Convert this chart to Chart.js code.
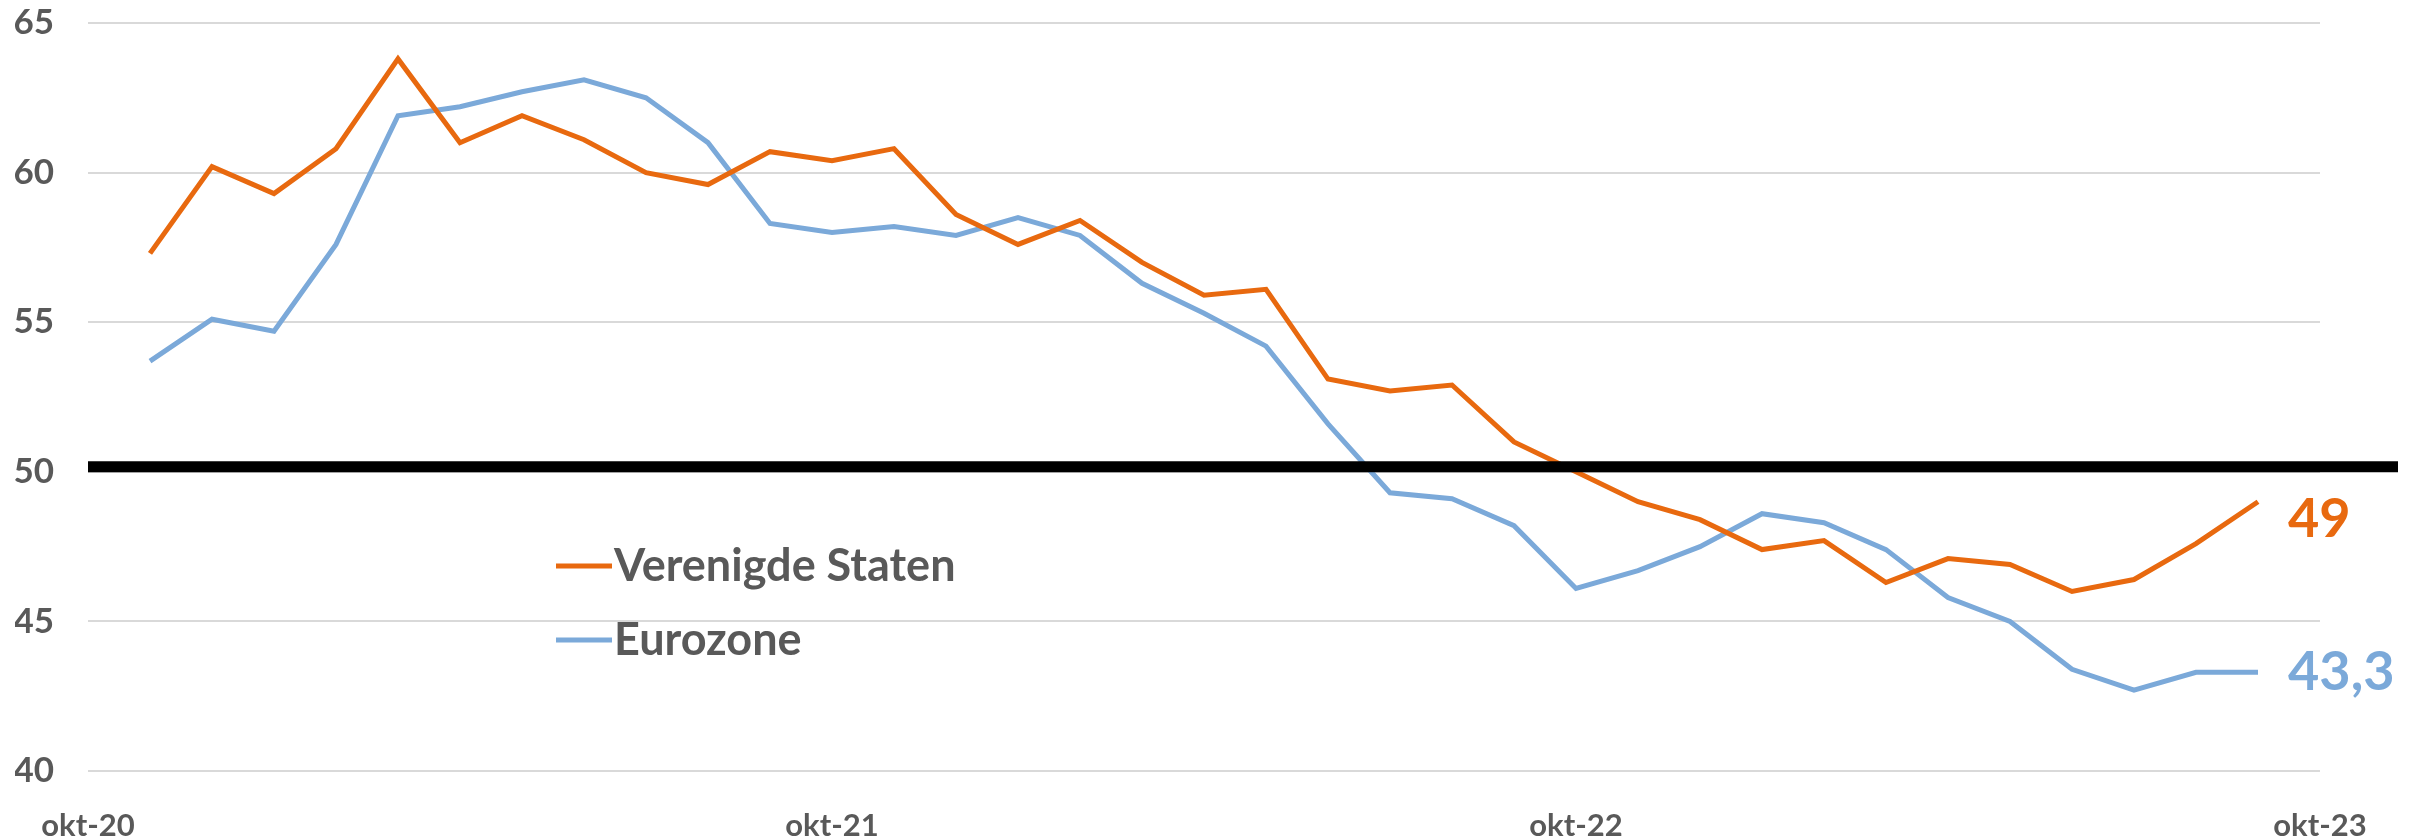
<!DOCTYPE html>
<html>
<head>
<meta charset="utf-8">
<script src="https://cdn.jsdelivr.net/npm/chart.js@4.4.1/dist/chart.umd.min.js"></script>
<style>
html, body { margin: 0; padding: 0; background: #fff; }
#wrap { width: 2423px; height: 836px; position: relative; }
</style>
</head>
<body>
<div id="wrap"><canvas id="pmi-chart"></canvas></div>
<script>
// maanden okt-20 t/m okt-23
const months = [
    'okt-20', 'nov-20', 'dec-20',
    'jan-21', 'feb-21', 'mrt-21', 'apr-21', 'mei-21', 'jun-21', 'jul-21', 'aug-21', 'sep-21', 'okt-21', 'nov-21', 'dec-21',
    'jan-22', 'feb-22', 'mrt-22', 'apr-22', 'mei-22', 'jun-22', 'jul-22', 'aug-22', 'sep-22', 'okt-22', 'nov-22', 'dec-22',
    'jan-23', 'feb-23', 'mrt-23', 'apr-23', 'mei-23', 'jun-23', 'jul-23', 'aug-23', 'sep-23', 'okt-23'
];
const usPmi = [
    null, 57.3, 60.2,
    59.3, 60.8, 63.8, 61.0, 61.9, 61.1, 60.0, 59.6, 60.7, 60.4, 60.8, 58.6,
    57.6, 58.4, 57.0, 55.9, 56.1, 53.1, 52.7, 52.9, 51.0, 50.0, 49.0, 48.4,
    47.4, 47.7, 46.3, 47.1, 46.9, 46.0, 46.4, 47.6, 49.0, null
];
const euPmi = [
    null, 53.7, 55.1,
    54.7, 57.6, 61.9, 62.2, 62.7, 63.1, 62.5, 61.0, 58.3, 58.0, 58.2, 57.9,
    58.5, 57.9, 56.3, 55.3, 54.2, 51.6, 49.3, 49.1, 48.2, 46.1, 46.7, 47.5,
    48.6, 48.3, 47.4, 45.8, 45.0, 43.4, 42.7, 43.3, 43.3, null
];
const yMin = 40, yMax = 65, yStep = 5;
const threshold = 50;

const grey = '#595959';
const orange = '#E8690F';
const blue = '#7BA9D9';

// zwarte 50-lijn, legenda in de grafiek en eindwaarden
const overlay = {
    id: 'overlay',
    afterDatasetsDraw(chart) {
        const ctx = chart.ctx;
        const area = chart.chartArea;
        const y = chart.scales.y.getPixelForValue(threshold) - 5;
        ctx.save();
        ctx.strokeStyle = '#000';
        ctx.lineWidth = 11;
        ctx.beginPath();
        ctx.moveTo(area.left, y);
        ctx.lineTo(chart.width - 25, y);
        ctx.stroke();

        // legenda
        chart.data.datasets.forEach(function(ds, i) {
            const ly = 566 + i * 74;
            ctx.strokeStyle = ds.borderColor;
            ctx.lineWidth = 5;
            ctx.beginPath();
            ctx.moveTo(556, ly);
            ctx.lineTo(612, ly);
            ctx.stroke();
            ctx.fillStyle = grey;
            ctx.font = 'bold 45px Lato';
            ctx.textBaseline = 'alphabetic';
            ctx.textAlign = 'left';
            ctx.fillText(ds.label, 614, ly + 15);
        });

        // laatste waarde
        chart.data.datasets.forEach(function(ds, i) {
            const meta = chart.getDatasetMeta(i);
            let last = ds.data.length - 1;
            while (last > 0 && ds.data[last] == null) last--;
            const pt = meta.data[last];
            ctx.fillStyle = ds.borderColor;
            ctx.font = 'bold 54px Lato';
            ctx.textBaseline = 'middle';
            ctx.textAlign = 'left';
            ctx.fillText(String(ds.data[last]).replace('.', ','), pt.x + 30, pt.y + ds.endLabelDy);
        });
        ctx.restore();
    }
};

const ctx = document.getElementById('pmi-chart').getContext('2d');
var chart = new Chart(ctx, {
    type: 'line',
    data: {
        labels: months,
        datasets: [
            {
                label: 'Verenigde Staten',
                data: usPmi,
                borderColor: orange,
                borderWidth: 5,
                pointRadius: 0,
                tension: 0,
                endLabelDy: 18,
            },
            {
                label: 'Eurozone',
                data: euPmi,
                borderColor: blue,
                borderWidth: 5,
                pointRadius: 0,
                tension: 0,
                endLabelDy: 0,
            },
        ],
    },
    plugins: [overlay],
    options: {
        responsive: true,
        maintainAspectRatio: false,
        animation: false,
        layout: {
            padding: { left: 15, right: 103, top: 0, bottom: 0 }
        },
        plugins: {
            legend: { display: false },
            tooltip: { enabled: false },
        },
        scales: {
            x: {
                offset: false,
                grid: { display: false },
                border: { display: false },
                afterFit: function(scale) { scale.height = 65; },
                ticks: {
                    autoSkip: false,
                    maxRotation: 0,
                    padding: 28,
                    color: grey,
                    font: { family: 'Lato', weight: 'bold', size: 31 },
                    callback: function(value, index) {
                        return index % 12 === 0 ? months[index] : '';
                    }
                }
            },
            y: {
                min: yMin,
                max: yMax,
                grid: { color: '#D9D9D9', lineWidth: 2, drawTicks: false },
                border: { display: false },
                afterFit: function(scale) {
                    scale.width = 73;
                    scale.paddingTop = 23;
                },
                ticks: {
                    stepSize: yStep,
                    padding: 34,
                    color: grey,
                    font: { family: 'Lato', weight: 'bold', size: 35 },
                }
            }
        },
    },
});
</script>
</body>
</html>
